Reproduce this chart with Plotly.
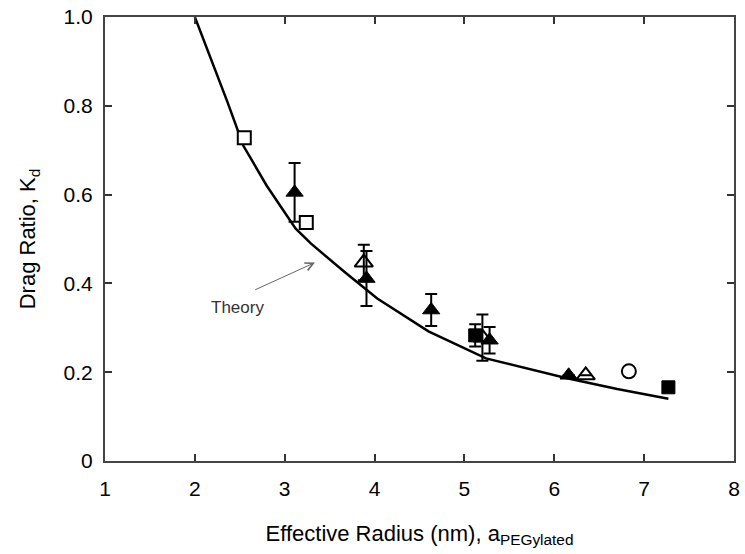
import plotly.graph_objects as go

# Theory curve
theory_x = [2.0, 2.36, 2.54, 2.8, 3.12, 3.29, 3.67, 4.03, 4.6, 5.24, 6.13, 6.7, 7.27]
theory_y = [1.0, 0.81, 0.71, 0.62, 0.524, 0.49, 0.425, 0.366, 0.292, 0.231, 0.187, 0.162, 0.14]

# Open squares
osq_x = [2.55, 3.24]
osq_y = [0.728, 0.537]

# Filled triangles (with error bars)
ftri_x = [3.11, 3.91, 4.63, 5.28, 6.16]
ftri_y = [0.605, 0.411, 0.34, 0.272, 0.193]
ftri_err = [0.066, 0.062, 0.036, 0.03, 0.0]

# Open triangles (with error bars)
otri_x = [3.88, 5.2, 6.35]
otri_y = [0.447, 0.278, 0.193]
otri_err = [0.04, 0.052, 0.0]

# Filled squares
fsq_x = [5.12, 7.27]
fsq_y = [0.283, 0.166]
fsq_err = [0.025, 0.0]

# Open circle
oci_x = [6.83]
oci_y = [0.202]

x_ticks = [1, 2, 3, 4, 5, 6, 7, 8]
y_ticks = [0, 0.2, 0.4, 0.6, 0.8, 1.0]
y_ticktext = ["0", "0.2", "0.4", "0.6", "0.8", "1.0"]

FONT = "Liberation Sans, Arial"

fig = go.Figure()

fig.add_trace(go.Scatter(x=theory_x, y=theory_y, mode="lines",
                         line=dict(color="black", width=2.5), showlegend=False))

err_style = dict(type="data", color="black", thickness=2, width=6)

fig.add_trace(go.Scatter(x=otri_x, y=otri_y, mode="markers",
                         error_y=dict(array=otri_err, **err_style),
                         marker=dict(symbol="triangle-up-open", size=16, color="black",
                                     line=dict(width=2, color="black")),
                         showlegend=False))
fig.add_trace(go.Scatter(x=ftri_x, y=ftri_y, mode="markers",
                         error_y=dict(array=ftri_err, **err_style),
                         marker=dict(symbol="triangle-up", size=15, color="black",
                                     line=dict(width=1, color="black")),
                         showlegend=False))
fig.add_trace(go.Scatter(x=fsq_x, y=fsq_y, mode="markers",
                         error_y=dict(array=fsq_err, **err_style),
                         marker=dict(symbol="square", size=13, color="black",
                                     line=dict(width=1, color="black")),
                         showlegend=False))
fig.add_trace(go.Scatter(x=osq_x, y=osq_y, mode="markers",
                         marker=dict(symbol="square", size=13, color="white",
                                     line=dict(width=2, color="black")),
                         showlegend=False))
fig.add_trace(go.Scatter(x=oci_x, y=oci_y, mode="markers",
                         marker=dict(symbol="circle", size=14, color="white",
                                     line=dict(width=2, color="black")),
                         showlegend=False))

fig.add_annotation(x=3.337, y=0.447, ax=2.654, ay=0.384, xref="x", yref="y",
                   axref="x", ayref="y", text="", showarrow=True,
                   arrowhead=5, arrowsize=1.6, arrowwidth=1, arrowcolor="#666666")
fig.add_annotation(x=2.47, y=0.346, xref="x", yref="y", text="Theory",
                   showarrow=False, xanchor="center", yanchor="middle",
                   font=dict(family=FONT, size=17, color="#333333"))

axis_common = dict(showline=True, mirror="ticks", linecolor="#444444", linewidth=2,
                   ticks="inside", ticklen=7, tickwidth=2, tickcolor="#333333",
                   showgrid=False, zeroline=False,
                   tickfont=dict(family=FONT, size=21, color="black"))

fig.update_xaxes(range=[1, 8], tickvals=x_ticks,
                 title=dict(text="Effective Radius (nm), a<sub>PEGylated</sub>",
                            font=dict(family=FONT, size=22, color="black"),
                            standoff=26),
                 ticklabelstandoff=8,
                 **axis_common)
fig.update_yaxes(range=[0, 1.0], tickvals=y_ticks, ticktext=y_ticktext,
                 title=dict(text="Drag Ratio, K<sub>d</sub>",
                            font=dict(family=FONT, size=22, color="black"),
                            standoff=22),
                 ticklabelstandoff=6,
                 **axis_common)

fig.update_layout(width=745, height=554, margin=dict(l=105, r=5, t=16, b=93),
                  plot_bgcolor="white", paper_bgcolor="white")

fig.write_html("out.html")
